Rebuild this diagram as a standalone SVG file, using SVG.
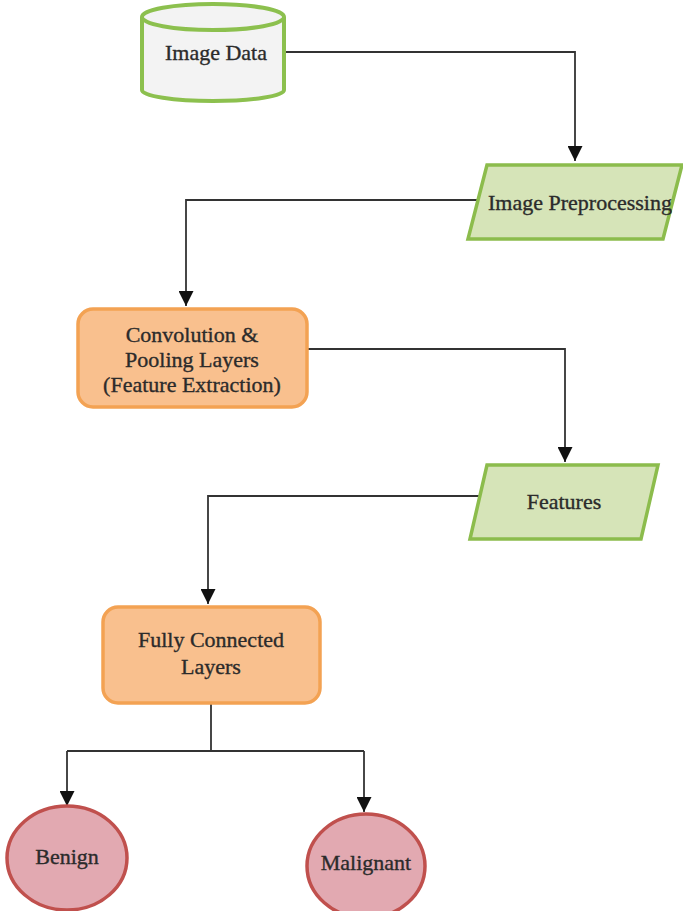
<svg xmlns="http://www.w3.org/2000/svg" width="683" height="911" viewBox="0 0 683 911">
<style>
.t{font-family:"Liberation Serif","Times New Roman",serif;font-size:22px;fill:#2b2b2b;stroke:#2b2b2b;stroke-width:0.35;text-anchor:middle}
.cyl{fill:#f3f3f3;stroke:#8cc04e;stroke-width:4}
.para{fill:#d6e4b8;stroke:#8cbc4c;stroke-width:3.5}
.box{fill:#f9c08e;stroke:#f3a253;stroke-width:3.5}
.circ{fill:#e2a9b1;stroke:#c0504d;stroke-width:3.5}
.c{fill:none;stroke:#333;stroke-width:1.8}
</style>
<defs>
<marker id="arr" markerUnits="userSpaceOnUse" markerWidth="15" markerHeight="15" viewBox="0 0 10 10" refX="10" refY="5" orient="auto">
<path d="M0,0 L10,5 L0,10 z" fill="#111"/>
</marker>
</defs>
<g id="connectors">
<path class="c" d="M286,52 H575 V161" marker-end="url(#arr)"/>
<path class="c" d="M477,200 H186 V306" marker-end="url(#arr)"/>
<path class="c" d="M308,349 H565 V462" marker-end="url(#arr)"/>
<path class="c" d="M481,496 H208 V604" marker-end="url(#arr)"/>
<path class="c" d="M211,704 V751 M67,751 H364"/>
<path class="c" d="M67,751 V806" marker-end="url(#arr)"/>
<path class="c" d="M364,751 V812" marker-end="url(#arr)"/>
</g>
<g id="image-data">
<path class="cyl" d="M142,17 V90 A71,11 0 0 0 284,90 V17"/>
<ellipse class="cyl" cx="213" cy="17" rx="71" ry="13"/>
<text class="t" x="216" y="60">Image Data</text>
</g>
<g id="image-preprocessing">
<polygon class="para" points="487,165 682,165 663,239 468,239"/>
<text class="t" x="580" y="210">Image Preprocessing</text>
</g>
<g id="convolution">
<rect class="box" x="78" y="309" width="229" height="98" rx="15"/>
<text class="t" x="192" y="342">Convolution &amp;</text>
<text class="t" x="192" y="367">Pooling Layers</text>
<text class="t" x="192" y="392">(Feature Extraction)</text>
</g>
<g id="features">
<polygon class="para" points="487,465 658,465 641,539 470,539"/>
<text class="t" x="564" y="509">Features</text>
</g>
<g id="fully-connected">
<rect class="box" x="103" y="607" width="217" height="96" rx="15"/>
<text class="t" x="211" y="647">Fully Connected</text>
<text class="t" x="211" y="674">Layers</text>
</g>
<g id="benign">
<ellipse class="circ" cx="67" cy="858" rx="60" ry="52"/>
<text class="t" x="67" y="864">Benign</text>
</g>
<g id="malignant">
<ellipse class="circ" cx="366" cy="866" rx="59" ry="52"/>
<text class="t" x="366" y="870">Malignant</text>
</g>
</svg>
